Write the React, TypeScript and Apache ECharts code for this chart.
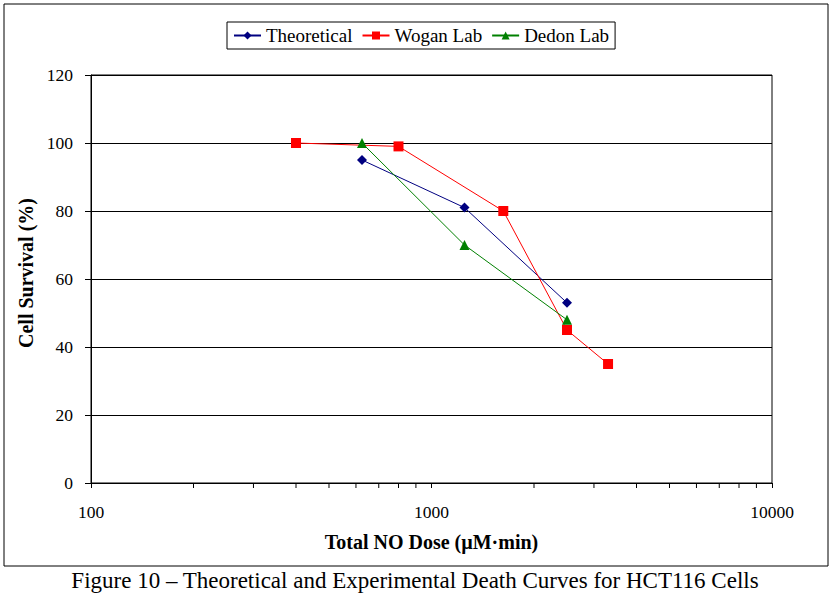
import React, { useEffect, useRef } from "react";
import * as echarts from "echarts";

const theoretical: [number, number][] = [
  [625, 95],
  [1250, 81],
  [2500, 53],
];
const woganLab: [number, number][] = [
  [400, 100],
  [800, 99],
  [1625, 80],
  [2500, 45],
  [3300, 35],
];
const dedonLab: [number, number][] = [
  [625, 100],
  [1250, 70],
  [2500, 48],
];
const minorTicks: number[] = [200, 300, 400, 500, 600, 700, 800, 900, 2000, 3000, 4000, 5000, 6000, 7000, 8000, 9000];

const FONT = "Liberation Serif";

export default function App() {
  const ref = useRef<HTMLDivElement>(null);
  useEffect(() => {
    if (!ref.current) return;
    const chart = echarts.init(ref.current, undefined, { renderer: "svg" });
    chart.setOption({
      animation: false,
      backgroundColor: "#fff",
      textStyle: { fontFamily: FONT },
      legend: {
        left: 227,
        top: 22,
        orient: "horizontal",
        borderColor: "#000",
        borderWidth: 1,
        padding: [4, 6],
        itemWidth: 27,
        itemHeight: 10,
        itemGap: 9,
        textStyle: { fontFamily: FONT, fontSize: 19, color: "#000" },
        data: ["Theoretical", "Wogan Lab", "Dedon Lab"],
      },
      grid: {
        left: 91,
        top: 75,
        width: 681,
        height: 408,
        show: true,
        borderColor: "#000",
        borderWidth: 1,
        backgroundColor: "transparent",
      },
      xAxis: {
        type: "log",
        logBase: 10,
        min: 100,
        max: 10000,
        name: "Total NO Dose (µM·min)",
        nameLocation: "middle",
        nameGap: 49,
        nameTextStyle: { fontFamily: FONT, fontSize: 20, fontWeight: "bold", color: "#000" },
        axisLine: { show: true, lineStyle: { color: "#000", width: 1 } },
        axisTick: { show: true, inside: false, length: 5, lineStyle: { color: "#000" } },
        axisLabel: {
          fontFamily: FONT,
          fontSize: 17.5,
          color: "#000",
          margin: 20,
          formatter: (v: number) => String(Math.round(v)),
        },
        splitLine: { show: false },
      },
      yAxis: {
        type: "value",
        min: 0,
        max: 120,
        interval: 20,
        name: "Cell Survival (%)",
        nameLocation: "middle",
        nameGap: 47,
        nameTextStyle: { fontFamily: FONT, fontSize: 20, fontWeight: "bold", color: "#000", padding: [0, 0, 0, 12] },
        axisLine: { show: true, lineStyle: { color: "#000", width: 1 } },
        axisTick: { show: true, inside: false, length: 6, lineStyle: { color: "#000" } },
        axisLabel: { fontFamily: FONT, fontSize: 17.5, color: "#000", margin: 18 },
        splitLine: { show: true, lineStyle: { color: "#000", width: 1 } },
      },
      series: [
        {
          name: "Theoretical",
          type: "line",
          data: theoretical,
          color: "#000080",
          symbol: "diamond",
          symbolSize: 10,
          lineStyle: { width: 1, color: "#000080" },
          itemStyle: { color: "#000080" },
        },
        {
          name: "Wogan Lab",
          type: "line",
          data: woganLab,
          color: "#ff0000",
          symbol: "rect",
          symbolSize: 10,
          lineStyle: { width: 1, color: "#ff0000" },
          itemStyle: { color: "#ff0000" },
        },
        {
          name: "Dedon Lab",
          type: "line",
          data: dedonLab,
          color: "#008000",
          symbol: "triangle",
          symbolSize: 10,
          lineStyle: { width: 1, color: "#008000" },
          itemStyle: { color: "#008000" },
        },
        {
          name: "minorTicks",
          type: "custom",
          silent: true,
          clip: false,
          data: minorTicks.map((v) => [v, 0]),
          renderItem: (_params: any, api: any) => {
            const p = api.coord([api.value(0), 0]);
            return {
              type: "line",
              shape: { x1: p[0], y1: p[1], x2: p[0], y2: p[1] + 5 },
              style: { stroke: "#000", lineWidth: 1 },
            };
          },
        },
      ],
      graphic: [
        {
          type: "rect",
          shape: { x: 4, y: 4, width: 824, height: 562 },
          style: { fill: "none", stroke: "#000", lineWidth: 1 },
          silent: true,
          z: -1,
        },
        {
          type: "text",
          x: 415,
          y: 580,
          style: {
            text: "Figure 10 – Theoretical and Experimental Death Curves for HCT116 Cells",
            font: `23px "${FONT}"`,
            fill: "#000",
            align: "center",
            verticalAlign: "middle",
          },
        },
      ],
    });
    return () => chart.dispose();
  }, []);
  return <div ref={ref} style={{ position: "fixed", left: 0, top: 0, width: 834, height: 600 }} />;
}
